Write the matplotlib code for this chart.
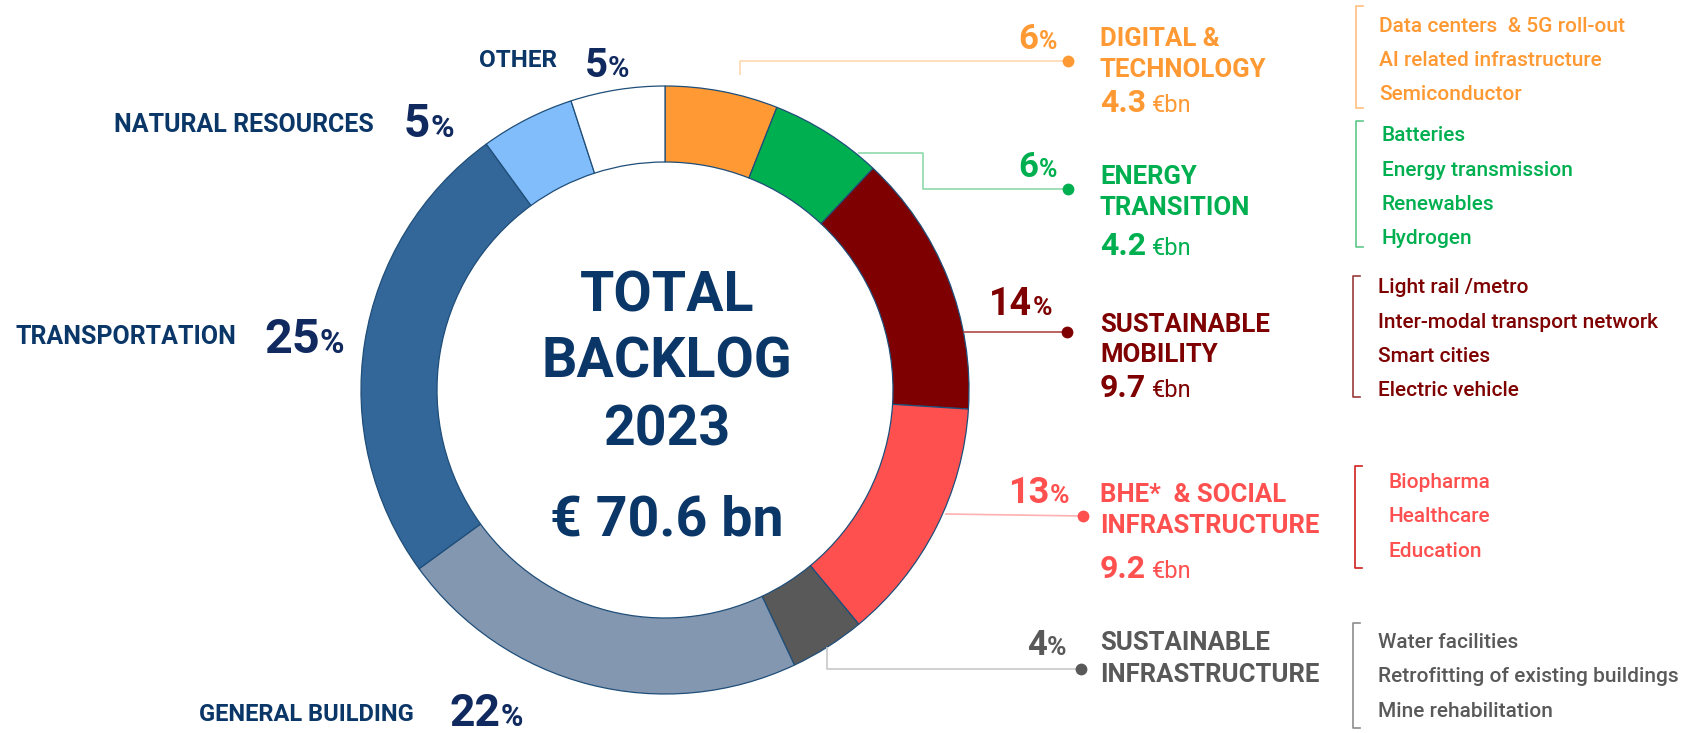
import matplotlib.pyplot as plt

plt.rcParams['font.family'] = ['Roboto', 'DejaVu Sans']

# backlog split by sector (clockwise from 12 o'clock)
sectors = ["DIGITAL & TECHNOLOGY", "ENERGY TRANSITION", "SUSTAINABLE MOBILITY",
           "BHE* & SOCIAL INFRASTRUCTURE", "SUSTAINABLE INFRASTRUCTURE",
           "GENERAL BUILDING", "TRANSPORTATION", "NATURAL RESOURCES", "OTHER"]
shares = [6, 6, 14, 13, 4, 22, 25, 5, 5]
sector_colors = ["#FF9933", "#00B050", "#7F0000", "#FF5050", "#595959",
                 "#8497B0", "#336699", "#80BDFA", "#FFFFFF"]

total_label = ["TOTAL", "BACKLOG", "2023", "€ 70.6 bn"]

# right-hand detail blocks (first five sectors)
right_titles = [["DIGITAL &", "TECHNOLOGY"], ["ENERGY", "TRANSITION"],
                ["SUSTAINABLE", "MOBILITY"], ["BHE*  & SOCIAL", "INFRASTRUCTURE"],
                ["SUSTAINABLE", "INFRASTRUCTURE"]]
right_values = ["4.3", "4.2", "9.7", "9.2", None]
right_items = [
    ["Data centers  & 5G roll-out", "AI related infrastructure", "Semiconductor"],
    ["Batteries", "Energy transmission", "Renewables", "Hydrogen"],
    ["Light rail /metro", "Inter-modal transport network", "Smart cities", "Electric vehicle"],
    ["Biopharma", "Healthcare", "Education"],
    ["Water facilities", "Retrofitting of existing buildings", "Mine rehabilitation"],
]
line_colors = ["#FFD8B0", "#8ED9AA", "#B04848", "#FFB0B0", "#C8C8C8"]
bracket_colors = ["#FFBF80", "#5CC98A", "#9A3A3A", "#D02020", "#8C8C8C"]

NAVY = "#0B3768"
NAVY_PCT = "#10295F"
EDGE = "#1F4E79"

W, H = 1690, 733
fig = plt.figure(figsize=(W / 100, H / 100), dpi=100)

# donut
cx, cy, R = 665, 390, 304
pie_ax = fig.add_axes([(cx - R) / W, (H - cy - R) / H, 2 * R / W, 2 * R / H])
wedges, _ = pie_ax.pie(shares, colors=sector_colors, startangle=90, counterclock=False,
                       radius=1, wedgeprops=dict(width=0.25, edgecolor=EDGE, linewidth=0.9))
for w in wedges:
    w.set_clip_on(False)
pie_ax.set_xlim(-1, 1)
pie_ax.set_ylim(-1, 1)
pie_ax.axis('off')

# overlay in pixel coords (y down)
ov = fig.add_axes([0, 0, 1, 1])
ov.set_xlim(0, W)
ov.set_ylim(H, 0)
ov.axis('off')

# centre text
for txt, yb in zip(total_label, [311, 378, 445, 535]):
    ov.text(667, yb, txt, ha='center', va='baseline', fontsize=40,
            fontweight='bold', color=NAVY)


def pct_right(x, yb, num, big, small, color):
    p = ov.text(x, yb, "%", ha='right', va='baseline', fontsize=small,
                fontweight='bold', color=color)
    ov.annotate(num, xy=(0, yb), xycoords=(p, 'data'), ha='right', va='baseline',
                fontsize=big, fontweight='bold', color=color)


def pct_left(x, yb, num, big, small, color):
    n = ov.text(x, yb, num, ha='left', va='baseline', fontsize=big,
                fontweight='bold', color=color)
    ov.annotate("%", xy=(1, yb), xycoords=(n, 'data'), ha='left', va='baseline',
                fontsize=small, fontweight='bold', color=color)


# left side labels: GENERAL BUILDING, TRANSPORTATION, NATURAL RESOURCES, OTHER
left_layout = {
    5: (414, 721, 450, 726, 32, 22, 17),
    6: (236, 344, 264, 353, 35, 24, 18),
    7: (374, 132, 404, 137, 33, 23, 18),
    8: (557, 67, 585, 77, 29, 21, 17.5),
}
for i, (lx, lyb, nx, nyb, big, small, fs) in left_layout.items():
    ov.text(lx, lyb, sectors[i], ha='right', va='baseline', fontsize=fs,
            fontweight='bold', color=NAVY)
    pct_left(nx, nyb, str(shares[i]), big, small, NAVY_PCT)

# right side: leader paths, percents, titles, values, bracket lists
leader_paths = [
    ([740, 740, 1068], [75, 61, 61]),
    ([858, 923, 923, 1068], [153, 153, 189, 189]),
    ([963, 1067], [332, 332]),
    ([945, 1083], [514, 516]),
    ([827, 827, 1081], [647, 669, 669]),
]
pct_pos = [(1057, 49, 25, 18), (1057, 177, 25, 18), (1052, 315, 27, 19),
           (1069, 503, 26, 19), (1066, 655, 25, 19)]
title_base = [(46, 77), (184, 215), (332, 362), (502, 533), (650, 682)]
value_base = [112, 255, 397, 578, None]
bracket_pos = [(1356, 6, 108), (1356, 121, 247), (1353, 276, 397),
               (1355, 466, 568), (1353, 623, 728)]
item_x = [1379, 1382, 1378, 1389, 1378]
item_first = [31.5, 141, 293, 488, 648]
item_step = 34.5

for i in range(5):
    col = sector_colors[i]
    xs, ys = leader_paths[i]
    ov.plot(xs, ys, color=line_colors[i], lw=1.2, solid_capstyle='butt')
    ov.plot(xs[-1], ys[-1], 'o', color=col, ms=8.5, mec='none')

    px, pyb, big, small = pct_pos[i]
    pct_right(px, pyb, str(shares[i]), big, small, col)

    for line, yb in zip(right_titles[i], title_base[i]):
        ov.text(1100, yb, line, ha='left', va='baseline', fontsize=18.5,
                fontweight='bold', color=col)

    if right_values[i] is not None:
        v = ov.text(1100, value_base[i], right_values[i], ha='left', va='baseline',
                    fontsize=23, fontweight='bold', color=col)
        ov.annotate("€bn", xy=(1, value_base[i]), xycoords=(v, 'data'),
                    xytext=(4, 0), textcoords='offset points', ha='left',
                    va='baseline', fontsize=17, color=col)

    bx, by0, by1 = bracket_pos[i]
    ov.plot([bx + 7, bx, bx, bx + 7], [by0, by0, by1, by1], color=bracket_colors[i], lw=1.2)
    for k, item in enumerate(right_items[i]):
        ov.text(item_x[i], item_first[i] + k * item_step, item, ha='left', va='baseline',
                fontsize=15, fontweight='medium', color=col)

fig.savefig("out.png", dpi=100)
